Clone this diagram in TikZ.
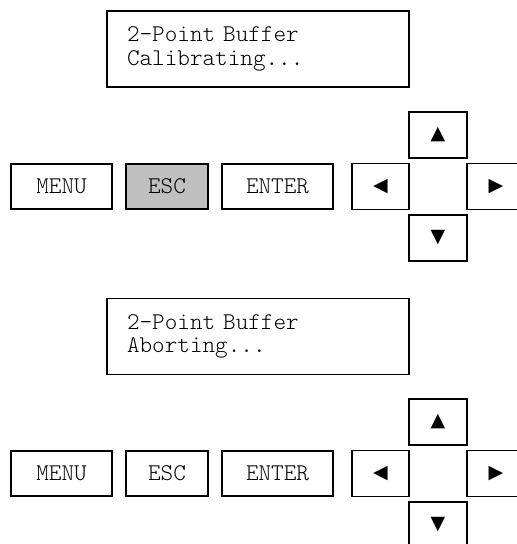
\documentclass[tikz,border=0pt]{standalone}
\usepackage{fontspec}
\newfontfamily\arrowfont{DejaVu Sans}
\newfontfamily\lcdfont{Latin Modern Mono Light}
\usetikzlibrary{positioning}

\definecolor{escgray}{HTML}{C0C0C0}

\tikzset{
    key/.style={draw, line width=1.4pt, minimum height=45pt, inner sep=0pt,
        font=\lcdfont\fontsize{24}{24}\selectfont},
    padkey/.style={key, minimum width=57pt, minimum height=46pt,
        font=\arrowfont\fontsize{19}{20}\selectfont},
    lcd/.style={draw, line width=1.4pt, minimum width=302pt, minimum height=76pt,
        text width=262pt, align=left, font=\lcdfont\fontsize{24}{23.5}\selectfont}
}

\begin{document}
\begin{tikzpicture}[x=1pt,y=-1pt]

\clip (0,0) rectangle (517,544);

% Top display
\node[lcd] (lcdA) at (258,49) {2-Point Buffer\\Calibrating...};

% Top keys
\node[key, minimum width=101pt] (menuA) at (61.5,186.5) {MENU};
\node[key, minimum width=82pt, fill=escgray] (escA) at (167,186.5) {ESC};
\node[key, minimum width=111pt] (enterA) at (277.5,186.5) {ENTER};

% Top arrow pad
\node[padkey] (leftA) at (380.5,186.5) {◀};
\node[padkey, minimum width=58pt] (upA) at (438,135) {▲};
\node[padkey, minimum width=58pt] (rightA) at (496,186.5) {▶};
\node[padkey, minimum width=58pt] (downA) at (438,238) {▼};


% Bottom display
\node[lcd] (lcdB) at (258,336.5) {2-Point Buffer\\Aborting...};

% Bottom keys
\node[key, minimum width=101pt] (menuB) at (61.5,473.5) {MENU};
\node[key, minimum width=82pt] (escB) at (167,473.5) {ESC};
\node[key, minimum width=111pt] (enterB) at (277.5,473.5) {ENTER};

% Bottom arrow pad
\node[padkey] (leftB) at (380.5,473.5) {◀};
\node[padkey, minimum width=58pt] (upB) at (438,422) {▲};
\node[padkey, minimum width=58pt] (rightB) at (496,473.5) {▶};
\node[padkey, minimum width=58pt] (downB) at (438,525) {▼};

\end{tikzpicture}
\end{document}
